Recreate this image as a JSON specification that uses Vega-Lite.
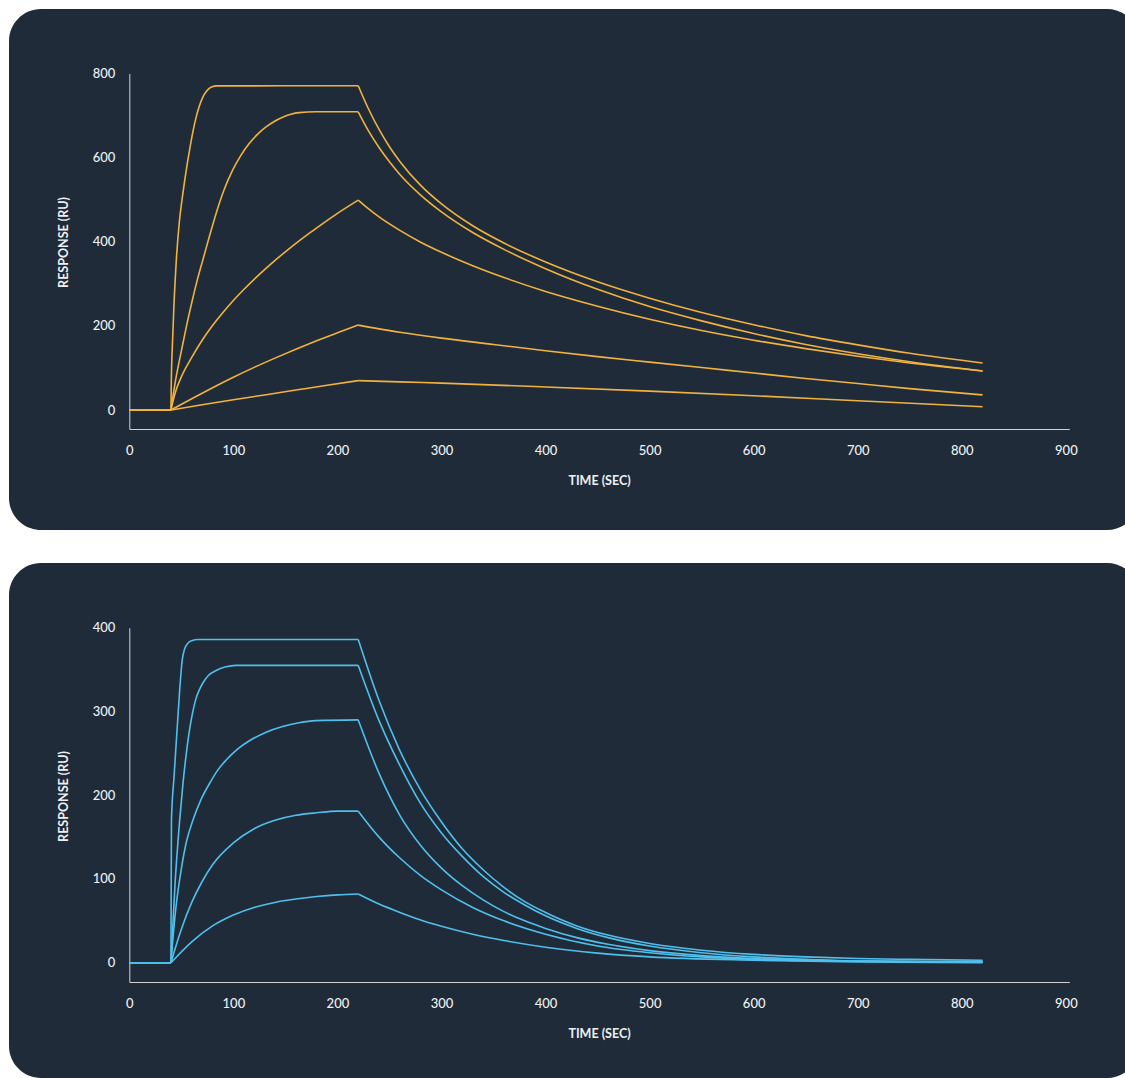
{
  "$schema": "https://vega.github.io/schema/vega-lite/v6.json",
  "background": "white",
  "padding": {"left": 9, "top": 9, "right": 0, "bottom": 0},
  "autosize": {"type": "pad"},
  "spacing": 33,
  "bounds": "flush",
  "config": {
    "view": {"fill": "#1f2b39", "stroke": null, "cornerRadius": 32},
    "axis": {
      "grid": false,
      "ticks": false,
      "labelFlush": false,
      "labelOverlap": false,
      "domainColor": "#cfd3d7",
      "domainWidth": 1,
      "labelColor": "#eef0f2",
      "labelFont": "Lato",
      "labelFontSize": 13,
      "labelFontWeight": 500,
      "titleColor": "#eef0f2",
      "titleFont": "Lato",
      "titleFontSize": 12.5,
      "titleFontWeight": "bold"
    }
  },
  "datasets": {
    "gold": [
      {"s":"g1","p":"a","t":0,"v":0},{"s":"g1","p":"a","t":40,"v":0},
      {"s":"g1","p":"b","t":40,"v":0},{"s":"g1","p":"b","t":40.4,"v":71},{"s":"g1","p":"b","t":41.5,"v":160},{"s":"g1","p":"b","t":43,"v":255},{"s":"g1","p":"b","t":45.2,"v":357},{"s":"g1","p":"b","t":48,"v":445},{"s":"g1","p":"b","t":51.5,"v":515},{"s":"g1","p":"b","t":54.7,"v":570},{"s":"g1","p":"b","t":57.9,"v":618},{"s":"g1","p":"b","t":61,"v":660},{"s":"g1","p":"b","t":64.3,"v":697},{"s":"g1","p":"b","t":67.5,"v":724},{"s":"g1","p":"b","t":70.7,"v":744},{"s":"g1","p":"b","t":74,"v":757},{"s":"g1","p":"b","t":77.1,"v":765},{"s":"g1","p":"b","t":80.3,"v":769},{"s":"g1","p":"b","t":83.5,"v":770.5},{"s":"g1","p":"b","t":220,"v":771},
      {"s":"g1","p":"c","t":220,"v":771},{"s":"g1","p":"c","t":230,"v":715},{"s":"g1","p":"c","t":240,"v":667},{"s":"g1","p":"c","t":250,"v":626},{"s":"g1","p":"c","t":260,"v":591},{"s":"g1","p":"c","t":280,"v":534},{"s":"g1","p":"c","t":300,"v":490},{"s":"g1","p":"c","t":330,"v":438},{"s":"g1","p":"c","t":360,"v":397},{"s":"g1","p":"c","t":400,"v":352},{"s":"g1","p":"c","t":450,"v":305},{"s":"g1","p":"c","t":500,"v":266},{"s":"g1","p":"c","t":550,"v":232},{"s":"g1","p":"c","t":600,"v":203},{"s":"g1","p":"c","t":650,"v":177},{"s":"g1","p":"c","t":700,"v":155},{"s":"g1","p":"c","t":750,"v":135},{"s":"g1","p":"c","t":820,"v":112},
      {"s":"g2","p":"a","t":0,"v":0},{"s":"g2","p":"a","t":40,"v":0},
      {"s":"g2","p":"b","t":40,"v":0},{"s":"g2","p":"b","t":44.5,"v":71},{"s":"g2","p":"b","t":50,"v":140},{"s":"g2","p":"b","t":55,"v":200},{"s":"g2","p":"b","t":60,"v":255},{"s":"g2","p":"b","t":65,"v":306},{"s":"g2","p":"b","t":70.7,"v":357},{"s":"g2","p":"b","t":77,"v":413},{"s":"g2","p":"b","t":83.5,"v":468},{"s":"g2","p":"b","t":91,"v":523},{"s":"g2","p":"b","t":99.4,"v":571},{"s":"g2","p":"b","t":107.4,"v":606},{"s":"g2","p":"b","t":115.4,"v":634},{"s":"g2","p":"b","t":123.4,"v":656},{"s":"g2","p":"b","t":131.4,"v":673},{"s":"g2","p":"b","t":139.3,"v":686},{"s":"g2","p":"b","t":147.3,"v":696},{"s":"g2","p":"b","t":155.2,"v":703},{"s":"g2","p":"b","t":163.2,"v":707},{"s":"g2","p":"b","t":179.2,"v":709},{"s":"g2","p":"b","t":220,"v":709},
      {"s":"g2","p":"c","t":220,"v":709},{"s":"g2","p":"c","t":230,"v":663},{"s":"g2","p":"c","t":240,"v":624},{"s":"g2","p":"c","t":250,"v":590},{"s":"g2","p":"c","t":260,"v":560},{"s":"g2","p":"c","t":280,"v":511},{"s":"g2","p":"c","t":300,"v":471},{"s":"g2","p":"c","t":330,"v":422},{"s":"g2","p":"c","t":360,"v":382},{"s":"g2","p":"c","t":400,"v":336},{"s":"g2","p":"c","t":450,"v":287},{"s":"g2","p":"c","t":500,"v":246},{"s":"g2","p":"c","t":550,"v":212},{"s":"g2","p":"c","t":600,"v":182},{"s":"g2","p":"c","t":650,"v":156},{"s":"g2","p":"c","t":700,"v":134},{"s":"g2","p":"c","t":750,"v":115},{"s":"g2","p":"c","t":820,"v":93},
      {"s":"g3","p":"a","t":0,"v":0},{"s":"g3","p":"a","t":40,"v":0},
      {"s":"g3","p":"b","t":40,"v":0},{"s":"g3","p":"b","t":44,"v":40},{"s":"g3","p":"b","t":50,"v":79},{"s":"g3","p":"b","t":60,"v":125},{"s":"g3","p":"b","t":70,"v":166},{"s":"g3","p":"b","t":80,"v":201},{"s":"g3","p":"b","t":90,"v":232},{"s":"g3","p":"b","t":100,"v":260.5},{"s":"g3","p":"b","t":110,"v":286.5},{"s":"g3","p":"b","t":125,"v":322.5},{"s":"g3","p":"b","t":140.9,"v":357.5},{"s":"g3","p":"b","t":152,"v":380.3},{"s":"g3","p":"b","t":163.2,"v":402},{"s":"g3","p":"b","t":174.4,"v":422.8},{"s":"g3","p":"b","t":185.6,"v":442.7},{"s":"g3","p":"b","t":200,"v":467.5},{"s":"g3","p":"b","t":220,"v":499},
      {"s":"g3","p":"c","t":220,"v":499},{"s":"g3","p":"c","t":230,"v":478},{"s":"g3","p":"c","t":240,"v":459},{"s":"g3","p":"c","t":260,"v":427},{"s":"g3","p":"c","t":280,"v":399},{"s":"g3","p":"c","t":300,"v":375},{"s":"g3","p":"c","t":330,"v":343},{"s":"g3","p":"c","t":360,"v":315},{"s":"g3","p":"c","t":400,"v":282},{"s":"g3","p":"c","t":450,"v":247},{"s":"g3","p":"c","t":500,"v":216},{"s":"g3","p":"c","t":550,"v":189},{"s":"g3","p":"c","t":600,"v":166},{"s":"g3","p":"c","t":650,"v":146},{"s":"g3","p":"c","t":700,"v":128},{"s":"g3","p":"c","t":750,"v":112},{"s":"g3","p":"c","t":820,"v":93},
      {"s":"g4","p":"a","t":0,"v":0},{"s":"g4","p":"a","t":40,"v":0},
      {"s":"g4","p":"b","t":40,"v":0},{"s":"g4","p":"b","t":60,"v":27},{"s":"g4","p":"b","t":80,"v":53},{"s":"g4","p":"b","t":100,"v":78},{"s":"g4","p":"b","t":120,"v":101.5},{"s":"g4","p":"b","t":140,"v":123.5},{"s":"g4","p":"b","t":160,"v":144.5},{"s":"g4","p":"b","t":180,"v":164.5},{"s":"g4","p":"b","t":200,"v":183.5},{"s":"g4","p":"b","t":220,"v":202},
      {"s":"g4","p":"c","t":220,"v":202},{"s":"g4","p":"c","t":240,"v":193},{"s":"g4","p":"c","t":260,"v":185},{"s":"g4","p":"c","t":300,"v":171},{"s":"g4","p":"c","t":350,"v":156},{"s":"g4","p":"c","t":400,"v":141},{"s":"g4","p":"c","t":450,"v":127},{"s":"g4","p":"c","t":500,"v":114},{"s":"g4","p":"c","t":550,"v":101},{"s":"g4","p":"c","t":600,"v":88},{"s":"g4","p":"c","t":650,"v":75},{"s":"g4","p":"c","t":700,"v":63},{"s":"g4","p":"c","t":750,"v":51},{"s":"g4","p":"c","t":820,"v":36},
      {"s":"g5","p":"a","t":0,"v":0},{"s":"g5","p":"a","t":40,"v":0},
      {"s":"g5","p":"b","t":40,"v":0},{"s":"g5","p":"b","t":70,"v":12.5},{"s":"g5","p":"b","t":100,"v":24.5},{"s":"g5","p":"b","t":130,"v":36},{"s":"g5","p":"b","t":160,"v":47.5},{"s":"g5","p":"b","t":190,"v":59},{"s":"g5","p":"b","t":220,"v":70},
      {"s":"g5","p":"c","t":220,"v":70},{"s":"g5","p":"c","t":260,"v":67},{"s":"g5","p":"c","t":300,"v":64},{"s":"g5","p":"c","t":400,"v":55},{"s":"g5","p":"c","t":500,"v":45},{"s":"g5","p":"c","t":600,"v":34},{"s":"g5","p":"c","t":700,"v":22},{"s":"g5","p":"c","t":820,"v":8}
    ],
    "blue": [
      {"s":"b1","p":"a","t":0,"v":0},{"s":"b1","p":"a","t":40,"v":0},
      {"s":"b1","p":"b","t":40,"v":0},{"s":"b1","p":"b","t":40.5,"v":170},{"s":"b1","p":"b","t":43,"v":222},{"s":"b1","p":"b","t":46,"v":280},{"s":"b1","p":"b","t":48.5,"v":327},{"s":"b1","p":"b","t":50.9,"v":362},{"s":"b1","p":"b","t":53,"v":374},{"s":"b1","p":"b","t":56,"v":381},{"s":"b1","p":"b","t":60,"v":384.5},{"s":"b1","p":"b","t":66,"v":386},{"s":"b1","p":"b","t":220,"v":386},
      {"s":"b1","p":"c","t":220,"v":386},{"s":"b1","p":"c","t":240,"v":313},{"s":"b1","p":"c","t":259,"v":256},{"s":"b1","p":"c","t":280,"v":206},{"s":"b1","p":"c","t":300,"v":168},{"s":"b1","p":"c","t":320,"v":136},{"s":"b1","p":"c","t":340,"v":111},{"s":"b1","p":"c","t":360,"v":90},{"s":"b1","p":"c","t":380,"v":73},{"s":"b1","p":"c","t":400,"v":60},{"s":"b1","p":"c","t":430,"v":44},{"s":"b1","p":"c","t":460,"v":33},{"s":"b1","p":"c","t":500,"v":23},{"s":"b1","p":"c","t":550,"v":15},{"s":"b1","p":"c","t":600,"v":10},{"s":"b1","p":"c","t":650,"v":7},{"s":"b1","p":"c","t":700,"v":5},{"s":"b1","p":"c","t":750,"v":4},{"s":"b1","p":"c","t":820,"v":3},
      {"s":"b2","p":"a","t":0,"v":0},{"s":"b2","p":"a","t":40,"v":0},
      {"s":"b2","p":"b","t":40,"v":0},{"s":"b2","p":"b","t":44,"v":95},{"s":"b2","p":"b","t":48.4,"v":170},{"s":"b2","p":"b","t":51.5,"v":213},{"s":"b2","p":"b","t":54.8,"v":250},{"s":"b2","p":"b","t":58,"v":279},{"s":"b2","p":"b","t":61.1,"v":300},{"s":"b2","p":"b","t":64,"v":315},{"s":"b2","p":"b","t":67,"v":325},{"s":"b2","p":"b","t":70.7,"v":334},{"s":"b2","p":"b","t":76,"v":343},{"s":"b2","p":"b","t":83.5,"v":349},{"s":"b2","p":"b","t":92,"v":353},{"s":"b2","p":"b","t":102.6,"v":355},{"s":"b2","p":"b","t":220,"v":355},
      {"s":"b2","p":"c","t":220,"v":355},{"s":"b2","p":"c","t":240,"v":289},{"s":"b2","p":"c","t":259,"v":238},{"s":"b2","p":"c","t":280,"v":190},{"s":"b2","p":"c","t":300,"v":155},{"s":"b2","p":"c","t":320,"v":127},{"s":"b2","p":"c","t":340,"v":103},{"s":"b2","p":"c","t":360,"v":84},{"s":"b2","p":"c","t":380,"v":69},{"s":"b2","p":"c","t":400,"v":56},{"s":"b2","p":"c","t":430,"v":41},{"s":"b2","p":"c","t":460,"v":30},{"s":"b2","p":"c","t":500,"v":20},{"s":"b2","p":"c","t":550,"v":12},{"s":"b2","p":"c","t":600,"v":7},{"s":"b2","p":"c","t":650,"v":4},{"s":"b2","p":"c","t":700,"v":2},{"s":"b2","p":"c","t":820,"v":1},
      {"s":"b3","p":"a","t":0,"v":0},{"s":"b3","p":"a","t":40,"v":0},
      {"s":"b3","p":"b","t":40,"v":0},{"s":"b3","p":"b","t":42,"v":30},{"s":"b3","p":"b","t":45,"v":68},{"s":"b3","p":"b","t":50,"v":112},{"s":"b3","p":"b","t":55,"v":145},{"s":"b3","p":"b","t":61.1,"v":170},{"s":"b3","p":"b","t":69,"v":195},{"s":"b3","p":"b","t":77.1,"v":214},{"s":"b3","p":"b","t":85,"v":230},{"s":"b3","p":"b","t":93.1,"v":242},{"s":"b3","p":"b","t":104,"v":255},{"s":"b3","p":"b","t":115.4,"v":265},{"s":"b3","p":"b","t":131,"v":275},{"s":"b3","p":"b","t":147.3,"v":282},{"s":"b3","p":"b","t":163,"v":286.5},{"s":"b3","p":"b","t":179.2,"v":289},{"s":"b3","p":"b","t":220,"v":290},
      {"s":"b3","p":"c","t":220,"v":290},{"s":"b3","p":"c","t":240,"v":226},{"s":"b3","p":"c","t":260,"v":176},{"s":"b3","p":"c","t":280,"v":140},{"s":"b3","p":"c","t":300,"v":113},{"s":"b3","p":"c","t":320,"v":92},{"s":"b3","p":"c","t":340,"v":75},{"s":"b3","p":"c","t":360,"v":61},{"s":"b3","p":"c","t":380,"v":50},{"s":"b3","p":"c","t":400,"v":41},{"s":"b3","p":"c","t":430,"v":30},{"s":"b3","p":"c","t":460,"v":22},{"s":"b3","p":"c","t":500,"v":14.5},{"s":"b3","p":"c","t":550,"v":8.5},{"s":"b3","p":"c","t":600,"v":5},{"s":"b3","p":"c","t":650,"v":3},{"s":"b3","p":"c","t":700,"v":2},{"s":"b3","p":"c","t":820,"v":1},
      {"s":"b4","p":"a","t":0,"v":0},{"s":"b4","p":"a","t":40,"v":0},
      {"s":"b4","p":"b","t":40,"v":0},{"s":"b4","p":"b","t":50,"v":40},{"s":"b4","p":"b","t":60,"v":72},{"s":"b4","p":"b","t":70,"v":97},{"s":"b4","p":"b","t":80,"v":117},{"s":"b4","p":"b","t":100,"v":143},{"s":"b4","p":"b","t":120,"v":160},{"s":"b4","p":"b","t":140,"v":170},{"s":"b4","p":"b","t":160,"v":176},{"s":"b4","p":"b","t":180,"v":179},{"s":"b4","p":"b","t":200,"v":181},{"s":"b4","p":"b","t":220,"v":181},
      {"s":"b4","p":"c","t":220,"v":181},{"s":"b4","p":"c","t":240,"v":150},{"s":"b4","p":"c","t":260,"v":125},{"s":"b4","p":"c","t":280,"v":104},{"s":"b4","p":"c","t":300,"v":87},{"s":"b4","p":"c","t":330,"v":66},{"s":"b4","p":"c","t":360,"v":50},{"s":"b4","p":"c","t":400,"v":34},{"s":"b4","p":"c","t":450,"v":20},{"s":"b4","p":"c","t":500,"v":12},{"s":"b4","p":"c","t":550,"v":7},{"s":"b4","p":"c","t":600,"v":4},{"s":"b4","p":"c","t":700,"v":2},{"s":"b4","p":"c","t":820,"v":1},
      {"s":"b5","p":"a","t":0,"v":0},{"s":"b5","p":"a","t":40,"v":0},
      {"s":"b5","p":"b","t":40,"v":0},{"s":"b5","p":"b","t":60,"v":25},{"s":"b5","p":"b","t":80,"v":44},{"s":"b5","p":"b","t":100,"v":57},{"s":"b5","p":"b","t":120,"v":66},{"s":"b5","p":"b","t":140,"v":72},{"s":"b5","p":"b","t":160,"v":76},{"s":"b5","p":"b","t":180,"v":79},{"s":"b5","p":"b","t":200,"v":81},{"s":"b5","p":"b","t":220,"v":82},
      {"s":"b5","p":"c","t":220,"v":82},{"s":"b5","p":"c","t":240,"v":70},{"s":"b5","p":"c","t":260,"v":60},{"s":"b5","p":"c","t":280,"v":51},{"s":"b5","p":"c","t":300,"v":43.5},{"s":"b5","p":"c","t":330,"v":34},{"s":"b5","p":"c","t":360,"v":26.5},{"s":"b5","p":"c","t":400,"v":18.5},{"s":"b5","p":"c","t":450,"v":11.5},{"s":"b5","p":"c","t":500,"v":7},{"s":"b5","p":"c","t":600,"v":3},{"s":"b5","p":"c","t":700,"v":1},{"s":"b5","p":"c","t":820,"v":0}
    ]
  },
  "vconcat": [
    {
      "width": 1130,
      "height": 521,
      "data": {"name": "gold"},
      "mark": {"type": "line", "color": "#f2b33d", "strokeWidth": 1.6, "interpolate": "monotone", "clip": false},
      "encoding": {
        "x": {"field": "t", "type": "quantitative",
          "scale": {"domain": [0, 903.3], "range": [120.3, 1060.3], "nice": false, "zero": false},
          "axis": {"title": "TIME (SEC)", "values": [0,100,200,300,400,500,600,700,800,900], "offset": -101, "labelPadding": 15.5, "titleX": 590, "titleY": 51, "titleBaseline": "middle"}},
        "y": {"field": "v", "type": "quantitative",
          "scale": {"domain": [-45, 800], "range": [420, 64.5], "nice": false, "zero": false},
          "axis": {"title": "RESPONSE (RU)", "values": [0,200,400,600,800], "offset": -120.3, "labelPadding": 14.5, "titleX": -65.5, "titleY": 233, "titleBaseline": "middle", "titleAngle": -90}},
        "detail": [{"field": "s", "type": "nominal"}, {"field": "p", "type": "nominal"}]
      }
    },
    {
      "width": 1130,
      "height": 515,
      "data": {"name": "blue"},
      "mark": {"type": "line", "color": "#4fc0ec", "strokeWidth": 1.6, "interpolate": "monotone", "clip": false},
      "encoding": {
        "x": {"field": "t", "type": "quantitative",
          "scale": {"domain": [0, 903.3], "range": [120.3, 1060.3], "nice": false, "zero": false},
          "axis": {"title": "TIME (SEC)", "values": [0,100,200,300,400,500,600,700,800,900], "offset": -96, "labelPadding": 15.5, "titleX": 590, "titleY": 51, "titleBaseline": "middle"}},
        "y": {"field": "v", "type": "quantitative",
          "scale": {"domain": [-23, 400], "range": [419, 64.7], "nice": false, "zero": false},
          "axis": {"title": "RESPONSE (RU)", "values": [0,100,200,300,400], "offset": -120.3, "labelPadding": 14.5, "titleX": -65.5, "titleY": 233, "titleBaseline": "middle", "titleAngle": -90}},
        "detail": [{"field": "s", "type": "nominal"}, {"field": "p", "type": "nominal"}]
      }
    }
  ]
}
